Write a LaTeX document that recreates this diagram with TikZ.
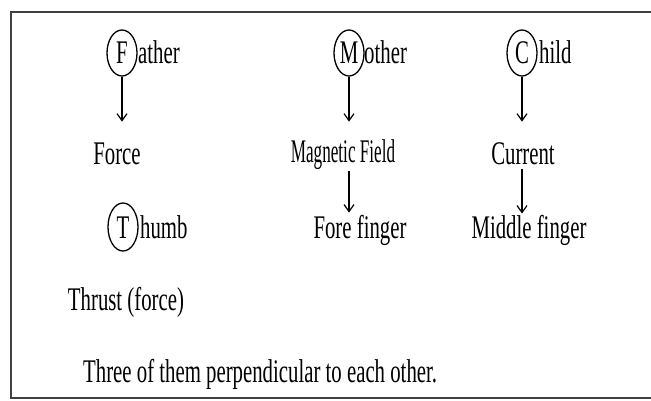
\documentclass[tikz,border=0pt]{standalone}
\usepackage{fontspec}
\setmainfont{Liberation Serif}
\usetikzlibrary{arrows.meta,calc,shapes.geometric}
\newcommand{\sq}[2][0.63]{\scalebox{#1}[1]{#2}}
\begin{document}
\begin{tikzpicture}[x=1pt,y=-1pt,
  lbl/.style={inner sep=0pt, anchor=base, font=\fontsize{33}{38}\selectfont},
  lblw/.style={inner sep=0pt, anchor=base west, font=\fontsize{33}{38}\selectfont},
  ring/.style={draw, ellipse, line width=1.3pt, inner sep=0pt, minimum width=30pt, minimum height=46pt},
  arr/.style={line width=1.2pt, -{Straight Barb[length=7pt,width=10pt,line width=1.2pt]}},
  frame/.style={line width=2pt, draw=black!75}]
\useasboundingbox (0,0) rectangle (651,401);
\draw[frame] (651,12) -- (11,12) -- (11,398) -- (651,398);

% top row
\node[ring] (Fc) at (122,53) {};
\node[lbl] (F) at (122,64) {\sq{F}};
\node[lblw] (Ft) at (138,64) {\sq{ather}};

\node[ring] (Mc) at (349,53) {};
\node[lbl] (M) at (349,64) {\sq{M}};
\node[lblw] (Mt) at (364,64) {\sq{other}};

\node[ring] (Cc) at (522,53) {};
\node[lbl] (C) at (522,64) {\sq{C}};
\node[lblw] (Ct) at (539,64) {\sq{hild}};

% second row
\node[lbl] (force) at (117,165) {\sq{Force}};
\node[lbl] (mag) at (343,163) {\sq[0.52]{Magnetic Field}};
\node[lbl] (cur) at (523,165) {\sq{Current}};

\draw[arr] (Fc.south) -- ++(0,45);
\draw[arr] (Mc.south) -- ++(0,45);
\draw[arr] (Cc.south) -- ++(0,45);

% third row
\node[ring, minimum height=48pt] (Tc) at (123,227) {};
\node[lbl] (T) at (123,238) {\sq{T}};
\node[lblw] (Tt) at (140,238) {\sq{humb}};
\node[lbl] (fore) at (360,238) {\sq{Fore finger}};
\node[lbl] (mid) at (529,238) {\sq{Middle finger}};

\draw[arr] ($(mag.south -| Mc.south)+(0,1)$) -- ($(fore.north -| Mc.south)+(0,-2)$);
\draw[arr] ($(cur.south -| Cc.south)+(0,3)$) -- ($(mid.north -| Cc.south)+(0,-1)$);

\node[lbl] (thrust) at (126,310) {\sq{Thrust (force)}};
\node[lblw] (three) at (83,382) {\sq{Three of them perpendicular to each other.}};
\end{tikzpicture}
\end{document}
